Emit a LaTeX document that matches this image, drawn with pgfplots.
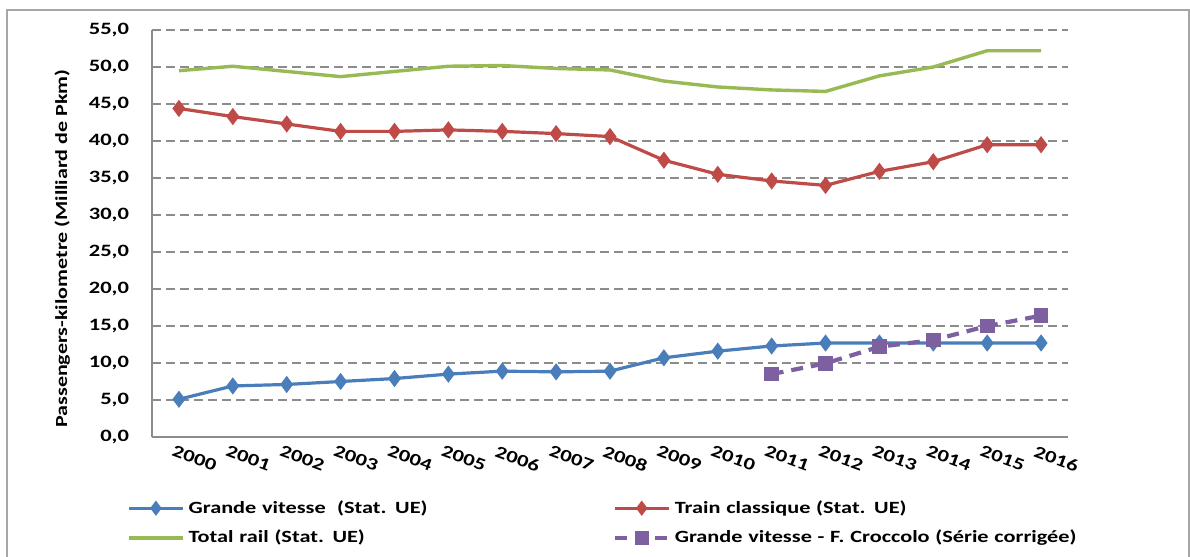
\documentclass[border=0pt]{standalone}
\usepackage{fontspec}
\setmainfont{Carlito}[FakeStretch=1.3]
\usepackage{pgfplots}
\pgfplotsset{compat=1.18}
\definecolor{cblue}{HTML}{4A7EBB}
\definecolor{cred}{HTML}{BE4B48}
\definecolor{cgreen}{HTML}{98B954}
\definecolor{cpurple}{HTML}{7D60A0}
\definecolor{cgrid}{HTML}{8C8C8C}
\definecolor{cframe}{HTML}{A6A6A6}
\begin{document}
\begin{tikzpicture}[x=1bp,y=1bp]
\useasboundingbox (0,0) rectangle (595,278);
\draw[cframe,line width=0.6bp] (3.5,-5) -- (3.5,273) -- (594.5,273) -- (594.5,-5);
\begin{axis}[
  at={(76bp,59.5bp)}, anchor=south west,
  scale only axis, width=458bp, height=203.5bp,
  xmin=1999.5, xmax=2016.5, ymin=0, ymax=55,
  xtick={2000,...,2016},
  xticklabels={2000,2001,2002,2003,2004,2005,2006,2007,2008,2009,2010,2011,2012,2013,2014,2015,2016},
  ytick={0,5,...,55},
  major tick length=0pt,
  axis x line*=bottom, axis y line*=left,
  axis line style={-, draw=cgrid, line width=0.6bp},
  ymajorgrids,
  grid style={draw=cgrid, line width=0.9bp, dash pattern=on 4.5bp off 2.5bp},
  font=\fontsize{8.5}{10}\selectfont\bfseries,
  tick label style={font=\fontsize{8.7}{10}\selectfont\bfseries},
  /pgf/number format/.cd, fixed, fixed zerofill, precision=1, use comma, assume math mode=true,
  /pgfplots/.cd,
  yticklabel style={xshift=-8bp},
  xticklabel style={rotate=-20, anchor=north west, xshift=-4bp, yshift=-1bp},
  ylabel={Passengers-kilometre (Milliard de Pkm)},
  ylabel style={font=\fontsize{7.8}{9}\selectfont\bfseries},
  every axis y label/.style={at={(axis description cs:-0.098,0.463)}, rotate=90, anchor=center},
  legend columns=2,
  legend style={at={(axis description cs:-0.034,-0.135)}, anchor=north west, draw=none, fill=none,
    font=\fontsize{8.6}{10}\selectfont\bfseries,
    nodes={text width=204bp, align=left, inner sep=2bp},
    /tikz/every even column/.append style={column sep=6bp},
    row sep=3bp},
  legend image code/.code={\draw[#1] (0bp,0bp) -- (13.5bp,0bp) -- (27bp,0bp); \draw[#1,mark repeat=1,mark size=2.5bp] plot coordinates {(13.5bp,0bp)};},
]
\addplot[cblue, line width=1.6bp, mark=diamond*, mark size=3bp, mark options={solid, fill=cblue}] coordinates {
(2000,5.1)(2001,6.9)(2002,7.1)(2003,7.5)(2004,7.9)(2005,8.5)(2006,8.9)(2007,8.8)(2008,8.9)
(2009,10.7)(2010,11.6)(2011,12.3)(2012,12.7)(2013,12.7)(2014,12.7)(2015,12.7)(2016,12.7)};
\addlegendentry{Grande vitesse\ \ (Stat. UE)}
\addplot[cred, line width=1.6bp, mark=diamond*, mark size=3bp, mark options={solid, fill=cred}] coordinates {
(2000,44.4)(2001,43.3)(2002,42.3)(2003,41.3)(2004,41.3)(2005,41.5)(2006,41.3)(2007,41.0)(2008,40.6)
(2009,37.4)(2010,35.5)(2011,34.6)(2012,34.0)(2013,35.9)(2014,37.2)(2015,39.5)(2016,39.5)};
\addlegendentry{Train classique (Stat. UE)}
\addplot[cgreen, line width=1.7bp] coordinates {
(2000,49.5)(2001,50.1)(2002,49.4)(2003,48.7)(2004,49.4)(2005,50.1)(2006,50.2)(2007,49.8)(2008,49.6)
(2009,48.1)(2010,47.3)(2011,46.9)(2012,46.7)(2013,48.8)(2014,50.0)(2015,52.2)(2016,52.2)};
\addlegendentry{Total rail (Stat. UE)}
\addplot[cpurple, line width=2.1bp, dash pattern=on 6bp off 4bp, mark=square*, mark size=2.6bp, mark options={solid, fill=cpurple}] coordinates {
(2011,8.5)(2012,9.95)(2013,12.2)(2014,13.1)(2015,15.0)(2016,16.4)};
\addlegendentry{Grande vitesse - F. Croccolo (Série corrigée)}
\end{axis}
\end{tikzpicture}
\end{document}
